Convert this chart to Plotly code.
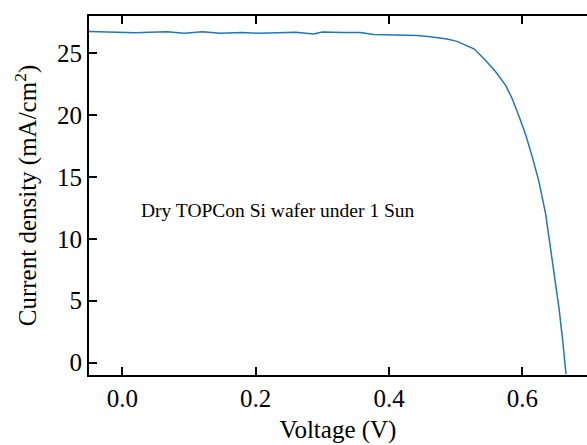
import plotly.graph_objects as go

voltage = [-0.05, -0.03, 0.0, 0.02, 0.04, 0.067, 0.093, 0.12, 0.147, 0.18, 0.205, 0.235,
           0.26, 0.287, 0.30, 0.33, 0.357, 0.377, 0.40, 0.418, 0.442, 0.462, 0.487, 0.502,
           0.515, 0.528, 0.545, 0.56, 0.575, 0.585, 0.595, 0.605, 0.615, 0.625, 0.635,
           0.645, 0.655, 0.6605, 0.6655]
current = [26.75, 26.72, 26.62, 26.64, 26.68, 26.73, 26.6, 26.73, 26.6, 26.67, 26.6, 26.67,
           26.68, 26.54, 26.7, 26.66, 26.67, 26.5, 26.48, 26.43, 26.43, 26.33, 26.14, 25.95,
           25.65, 25.33, 24.4, 23.5, 22.4, 21.3, 19.9, 18.4, 16.6, 14.6, 12.0,
           8.4, 4.4, 1.8, -0.94]

x_ticks = [0.0, 0.2, 0.4, 0.6]
y_ticks = [0, 5, 10, 15, 20, 25]
x_range = [-0.05, 0.697]
y_range = [-1, 28]

FONT = "Liberation Serif"

fig = go.Figure()
fig.add_trace(go.Scatter(x=voltage, y=current, mode="lines",
                         line=dict(color="#1f77b4", width=1.5),
                         showlegend=False, hoverinfo="skip"))

fig.add_annotation(x=0.025, y=12.3, xref="x", yref="y", text="Dry TOPCon Si wafer under 1 Sun",
                   showarrow=False, xanchor="left", yanchor="middle",
                   font=dict(family=FONT, size=19.5, color="black"))

axis_common = dict(showgrid=False, zeroline=False, ticks="inside", ticklen=8, tickwidth=2,
                   tickcolor="black", linecolor="black", linewidth=2, showline=True,
                   tickfont=dict(family=FONT, size=25, color="black"))

fig.update_layout(
    width=587, height=445,
    margin=dict(l=89, r=0, t=16, b=70),
    paper_bgcolor="white", plot_bgcolor="white",
    font=dict(family=FONT, color="black"),
    xaxis=dict(range=x_range, tickvals=x_ticks, tickformat=".1f", mirror="ticks",
               title=dict(text="Voltage (V)", font=dict(family=FONT, size=25), standoff=9),
               automargin=False, **axis_common),
    yaxis=dict(range=y_range, tickvals=y_ticks, mirror=False,
               title=dict(text="Current density (mA/cm<sup>2</sup>)", font=dict(family=FONT, size=25), standoff=13),
               automargin=False, **axis_common),
    yaxis2=dict(range=y_range, tickvals=y_ticks, overlaying="y", side="right", showline=False,
                showgrid=False, zeroline=False, ticks="inside", ticklen=8, tickwidth=2,
                tickcolor="black", showticklabels=False, automargin=False),
)

fig.write_html("out.html", config={"displayModeBar": False},
               post_script="document.body.style.margin='0';document.body.style.overflow='hidden';")
